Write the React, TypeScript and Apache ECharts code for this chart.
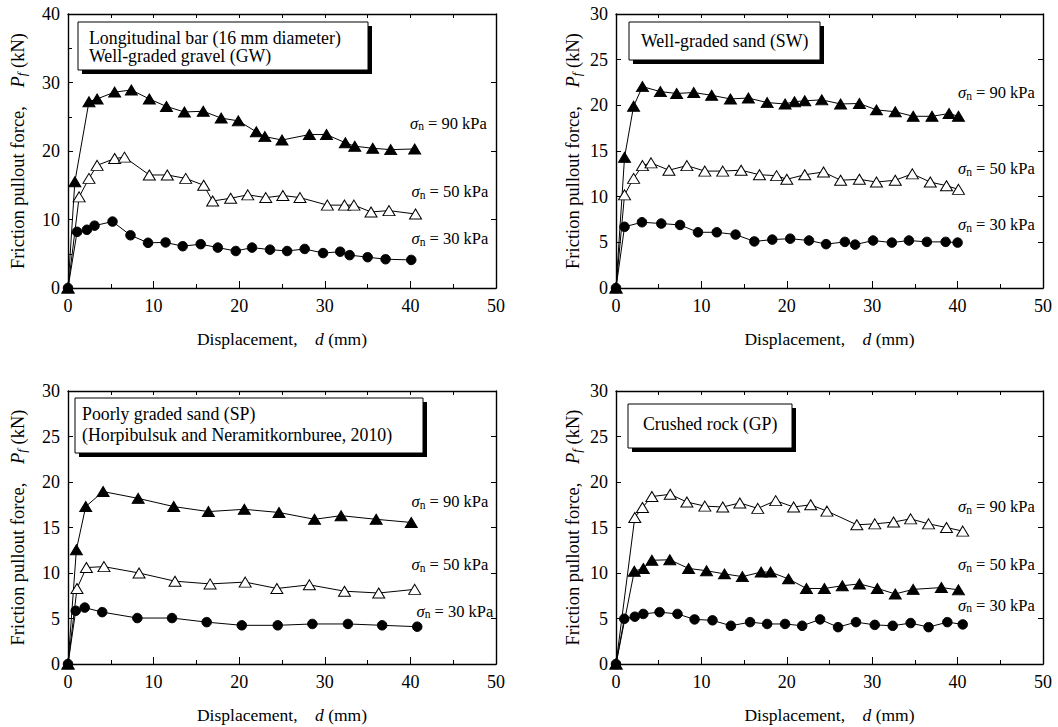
import React, { useEffect, useRef } from "react";
import * as echarts from "echarts";

const FONT = "Liberation Serif, Times New Roman, serif";

// ---------- DATA ----------
// Panel 1: Well-graded gravel (GW), longitudinal bar 16 mm
const gw90x = [0, 0.8, 2.45, 3.4, 5.45, 7.4, 9.5, 11.5, 13.6, 15.8, 17.9, 19.9, 22.0, 23.0, 25.0, 28.2, 30.2, 32.4, 33.5, 35.6, 37.7, 40.5];
const gw90y = [0, 15.5, 27.2, 27.6, 28.6, 28.9, 27.6, 26.5, 25.7, 25.8, 24.8, 24.4, 22.8, 22.1, 21.6, 22.4, 22.4, 21.2, 20.7, 20.4, 20.2, 20.3];
const gw50x = [0, 1.3, 2.45, 3.4, 5.45, 6.6, 9.5, 11.6, 13.75, 15.85, 16.9, 19.0, 21.0, 23.1, 25.1, 27.1, 30.3, 32.3, 33.4, 35.4, 37.5, 40.6];
const gw50y = [0, 13.3, 16.0, 17.9, 18.9, 19.1, 16.5, 16.5, 16.0, 15.0, 12.7, 13.1, 13.6, 13.2, 13.5, 13.2, 12.1, 12.1, 12.1, 11.1, 11.3, 10.8];
const gw30x = [0, 1.06, 2.2, 3.1, 5.2, 7.3, 9.35, 11.4, 13.4, 15.5, 17.5, 19.6, 21.5, 23.6, 25.6, 27.65, 29.8, 31.8, 32.9, 35.0, 37.1, 40.1];
const gw30y = [0, 8.2, 8.5, 9.1, 9.7, 7.7, 6.6, 6.65, 6.1, 6.4, 5.9, 5.4, 5.9, 5.6, 5.4, 5.7, 5.1, 5.3, 4.8, 4.5, 4.2, 4.1];

// Panel 2: Well-graded sand (SW)
const sw90x = [0, 1.0, 2.06, 3.1, 5.2, 7.1, 9.1, 11.2, 13.4, 15.5, 17.7, 19.8, 20.9, 22.1, 24.1, 26.3, 28.5, 30.5, 32.7, 34.8, 37.0, 39.0, 40.1];
const sw90y = [0, 14.3, 19.9, 22.05, 21.5, 21.3, 21.4, 21.1, 20.7, 20.8, 20.3, 20.15, 20.4, 20.5, 20.6, 20.15, 20.2, 19.5, 19.3, 18.8, 18.8, 19.1, 18.8];
const sw50x = [0, 1.0, 2.06, 3.1, 4.1, 6.2, 8.3, 10.4, 12.5, 14.65, 16.8, 18.8, 20.0, 22.1, 24.3, 26.3, 28.5, 30.5, 32.7, 34.7, 36.8, 38.7, 40.1];
const sw50y = [0, 10.2, 12.0, 13.4, 13.7, 12.9, 13.4, 12.8, 12.8, 12.9, 12.4, 12.3, 11.9, 12.4, 12.7, 11.8, 11.9, 11.6, 11.8, 12.5, 11.6, 11.2, 10.8];
const sw30x = [0, 1.0, 3.04, 5.3, 7.5, 9.6, 11.8, 14.0, 16.2, 18.3, 20.4, 22.6, 24.6, 26.8, 28.0, 30.1, 32.3, 34.3, 36.4, 38.6, 40.0];
const sw30y = [0, 6.7, 7.2, 7.06, 6.9, 6.1, 6.1, 5.85, 5.1, 5.3, 5.4, 5.2, 4.8, 5.05, 4.75, 5.2, 4.97, 5.2, 5.05, 5.05, 4.97];

// Panel 3: Poorly graded sand (SP)
const sp90x = [0, 0.98, 2.07, 4.1, 8.2, 12.35, 16.4, 20.6, 24.65, 28.8, 31.9, 36.0, 40.1];
const sp90y = [0, 12.55, 17.3, 18.95, 18.2, 17.3, 16.75, 17.0, 16.65, 15.9, 16.3, 15.9, 15.55];
const sp50x = [0, 1.05, 2.15, 4.2, 8.3, 12.5, 16.6, 20.7, 24.4, 28.2, 32.3, 36.3, 40.5];
const sp50y = [0, 8.3, 10.6, 10.7, 10.0, 9.1, 8.8, 9.0, 8.3, 8.7, 8.0, 7.8, 8.2];
const sp30x = [0, 0.9, 1.95, 4.0, 8.1, 12.15, 16.2, 20.3, 24.5, 28.55, 32.7, 36.7, 40.8];
const sp30y = [0, 5.85, 6.2, 5.7, 5.05, 5.05, 4.6, 4.25, 4.25, 4.4, 4.4, 4.25, 4.1];

// Panel 4: Crushed rock (GP)
const gp90x = [0, 2.2, 3.1, 4.2, 6.35, 8.3, 10.4, 12.5, 14.5, 16.6, 18.7, 20.8, 22.8, 24.7, 28.2, 30.3, 32.5, 34.5, 36.6, 38.7, 40.6];
const gp90y = [0, 16.1, 17.2, 18.4, 18.65, 17.8, 17.35, 17.25, 17.7, 17.1, 17.95, 17.25, 17.5, 16.8, 15.3, 15.4, 15.6, 15.95, 15.4, 15.0, 14.6];
const gp50x = [0, 2.14, 3.2, 4.2, 6.3, 8.5, 10.6, 12.7, 14.8, 17.0, 18.1, 20.2, 22.3, 24.4, 26.5, 28.5, 30.6, 32.7, 34.8, 38.1, 40.1];
const gp50y = [0, 10.2, 10.5, 11.4, 11.45, 10.5, 10.25, 9.9, 9.6, 10.1, 10.1, 9.35, 8.3, 8.3, 8.6, 8.8, 8.3, 7.7, 8.2, 8.4, 8.15];
const gp30x = [0, 0.97, 2.2, 3.2, 5.1, 7.2, 9.2, 11.3, 13.45, 15.7, 17.7, 19.8, 21.8, 23.9, 26.0, 28.1, 30.3, 32.4, 34.5, 36.6, 38.8, 40.6];
const gp30y = [0, 4.97, 5.2, 5.5, 5.7, 5.5, 4.9, 4.8, 4.2, 4.6, 4.4, 4.4, 4.2, 4.9, 4.05, 4.6, 4.3, 4.2, 4.5, 4.05, 4.6, 4.35];

const xMax = 50;
const xInterval = 10;
const yMaxes = [40, 30, 30, 30];
const yIntervals = [10, 5, 5, 5];
const pressureLabels = ["90", "50", "30"];
const titles = [
  ["Longitudinal bar (16 mm diameter)", "Well-graded gravel (GW)"],
  ["Well-graded sand (SW)"],
  ["Poorly graded sand (SP)", "(Horpibulsuk and Neramitkornburee, 2010)"],
  ["Crushed rock (GP)"],
];

type Kind = "filled" | "open" | "circle";
const panelSeries: { x: number[]; y: number[]; kind: Kind }[][] = [
  [
    { x: gw30x, y: gw30y, kind: "circle" },
    { x: gw50x, y: gw50y, kind: "open" },
    { x: gw90x, y: gw90y, kind: "filled" },
  ],
  [
    { x: sw30x, y: sw30y, kind: "circle" },
    { x: sw50x, y: sw50y, kind: "open" },
    { x: sw90x, y: sw90y, kind: "filled" },
  ],
  [
    { x: sp30x, y: sp30y, kind: "circle" },
    { x: sp50x, y: sp50y, kind: "open" },
    { x: sp90x, y: sp90y, kind: "filled" },
  ],
  [
    { x: gp30x, y: gp30y, kind: "circle" },
    { x: gp90x, y: gp90y, kind: "open" },
    { x: gp50x, y: gp50y, kind: "filled" },
  ],
];

// ---------- LAYOUT ----------
const grids = [
  { left: 68, top: 14, width: 428, height: 274 },
  { left: 616, top: 14, width: 427, height: 274 },
  { left: 68, top: 391, width: 428, height: 273 },
  { left: 616, top: 391, width: 427, height: 273 },
];
const yNameGaps = [40, 33, 40, 33];
const boxes = [
  { x: 78, y: 22, w: 290, h: 48, tx: 89, ty: [37.5, 55.5] },
  { x: 629, y: 22, w: 191, h: 38, tx: 641, ty: [40.5] },
  { x: 75, y: 398, w: 348, h: 55, tx: 82, ty: [413.5, 435] },
  { x: 628, y: 404, w: 164, h: 44, tx: 643, ty: [423.5] },
];
const sigmaPos = [
  [[410, 123], [411.5, 191.5], [411.5, 238.5]],
  [[958, 92.5], [958, 168.5], [958, 224.5]],
  [[411.5, 501.5], [411.5, 564.5], [416.5, 611]],
  [[958, 506.5], [958, 564.5], [958, 605]],
];

const black = "#000";

function buildOption() {
  const grid: any[] = [];
  const xAxis: any[] = [];
  const yAxis: any[] = [];
  const series: any[] = [];
  const graphic: any[] = [];

  grids.forEach((g, i) => {
    grid.push({ ...g, containLabel: false });
    const lineStyle = { color: black, width: 1.4 };
    xAxis.push({
      type: "value",
      gridIndex: i,
      min: 0,
      max: xMax,
      interval: xInterval,
      position: "bottom",
      axisLine: { show: true, onZero: false, lineStyle },
      axisTick: { show: true, inside: true, length: 7, lineStyle: { color: black, width: 1 } },
      minorTick: { show: true, splitNumber: 2, length: 4, lineStyle: { color: black, width: 1 } },
      splitLine: { show: false },
      axisLabel: { color: black, fontFamily: FONT, fontSize: 18, margin: 9 },
      name: "{n|Displacement,}    {i|d}{n| (mm)}",
      nameLocation: "middle",
      nameGap: 42,
      nameTextStyle: {
        color: black,
        fontFamily: FONT,
        fontSize: 17.5,
        rich: {
          n: { fontFamily: FONT, fontSize: 17.5, color: black },
          i: { fontFamily: FONT, fontSize: 17.5, fontStyle: "italic", color: black },
        },
      },
    });
    xAxis.push({
      type: "value",
      gridIndex: i,
      min: 0,
      max: xMax,
      interval: 5,
      position: "top",
      axisLine: { show: true, onZero: false, lineStyle },
      axisTick: { show: true, inside: true, length: 4, lineStyle: { color: black, width: 1 } },
      splitLine: { show: false },
      axisLabel: { show: false },
    });
    yAxis.push({
      type: "value",
      gridIndex: i,
      min: 0,
      max: yMaxes[i],
      interval: yIntervals[i],
      position: "left",
      axisLine: { show: true, onZero: false, lineStyle },
      axisTick: { show: true, inside: true, length: 5, lineStyle: { color: black, width: 1 } },
      minorTick: { show: yIntervals[i] === 10, splitNumber: 2, length: 4, lineStyle: { color: black, width: 1 } },
      splitLine: { show: false },
      axisLabel: { color: black, fontFamily: FONT, fontSize: 18, margin: 8 },
      name: "{n|Friction pullout force,}    {i|P}{s|f}{n| (kN)}",
      nameLocation: "middle",
      nameGap: yNameGaps[i],
      nameTextStyle: {
        color: black,
        fontFamily: FONT,
        fontSize: 18.5,
        rich: {
          n: { fontFamily: FONT, fontSize: 18.5, color: black, lineHeight: 21 },
          i: { fontFamily: FONT, fontSize: 18.5, fontStyle: "italic", color: black, lineHeight: 21 },
          s: { fontFamily: FONT, fontSize: 13, fontStyle: "italic", color: black, verticalAlign: "bottom", lineHeight: 12 },
        },
      },
    });
    yAxis.push({
      type: "value",
      gridIndex: i,
      min: 0,
      max: yMaxes[i],
      interval: yIntervals[i],
      position: "right",
      axisLine: { show: true, onZero: false, lineStyle },
      axisTick: { show: true, inside: true, length: 5, lineStyle: { color: black, width: 1 } },
      splitLine: { show: false },
      axisLabel: { show: false },
    });

    panelSeries[i].forEach((s) => {
      const isCircle = s.kind === "circle";
      series.push({
        type: "line",
        xAxisIndex: i * 2,
        yAxisIndex: i * 2,
        data: s.x.map((x, k) => [x, s.y[k]]),
        symbol: isCircle ? "circle" : "triangle",
        symbolSize: isCircle ? 9.5 : [12, 10],
        showSymbol: true,
        lineStyle: { color: black, width: 1 },
        itemStyle: {
          color: s.kind === "open" ? "#fff" : black,
          borderColor: black,
          borderWidth: 1,
        },
        silent: true,
        z: 3,
      });
    });

    // title box with shadow
    const b = boxes[i];
    graphic.push({
      type: "rect",
      shape: { x: b.x + 4, y: b.y + 4, width: b.w, height: b.h },
      style: { fill: black },
      z: 10,
    });
    graphic.push({
      type: "rect",
      shape: { x: b.x, y: b.y, width: b.w, height: b.h },
      style: { fill: "#fff", stroke: black, lineWidth: 1 },
      z: 11,
    });
    titles[i].forEach((t, k) => {
      graphic.push({
        type: "text",
        x: b.tx,
        y: b.ty[k],
        z: 12,
        style: {
          text: t,
          fill: black,
          fontFamily: FONT,
          fontSize: 17.8,
          verticalAlign: "middle",
          align: "left",
        },
      });
    });

    // sigma labels
    sigmaPos[i].forEach((p, k) => {
      graphic.push({
        type: "text",
        x: p[0],
        y: p[1],
        z: 12,
        style: {
          text: `{i|σ}{s|n}{n| = ${pressureLabels[k]} kPa}`,
          fill: black,
          fontFamily: FONT,
          fontSize: 16.5,
          verticalAlign: "middle",
          align: "left",
          rich: {
            i: { fontFamily: FONT, fontSize: 16.5, fontStyle: "italic", fill: black, lineHeight: 18 },
            s: { fontFamily: FONT, fontSize: 11.5, fill: black, verticalAlign: "bottom", lineHeight: 10 },
            n: { fontFamily: FONT, fontSize: 16.5, fill: black, lineHeight: 18 },
          },
        },
      });
    });
  });

  return {
    animation: false,
    backgroundColor: "#fff",
    textStyle: { fontFamily: FONT },
    grid,
    xAxis,
    yAxis,
    series,
    graphic,
  };
}

export default function App() {
  const ref = useRef<HTMLDivElement>(null);
  useEffect(() => {
    if (!ref.current) return;
    const chart = echarts.init(ref.current, undefined, { renderer: "svg" });
    chart.setOption(buildOption() as any);
    return () => chart.dispose();
  }, []);
  return (
    <div
      ref={ref}
      style={{ position: "absolute", left: 0, top: 0, width: 1058, height: 727, background: "#fff" }}
    />
  );
}
